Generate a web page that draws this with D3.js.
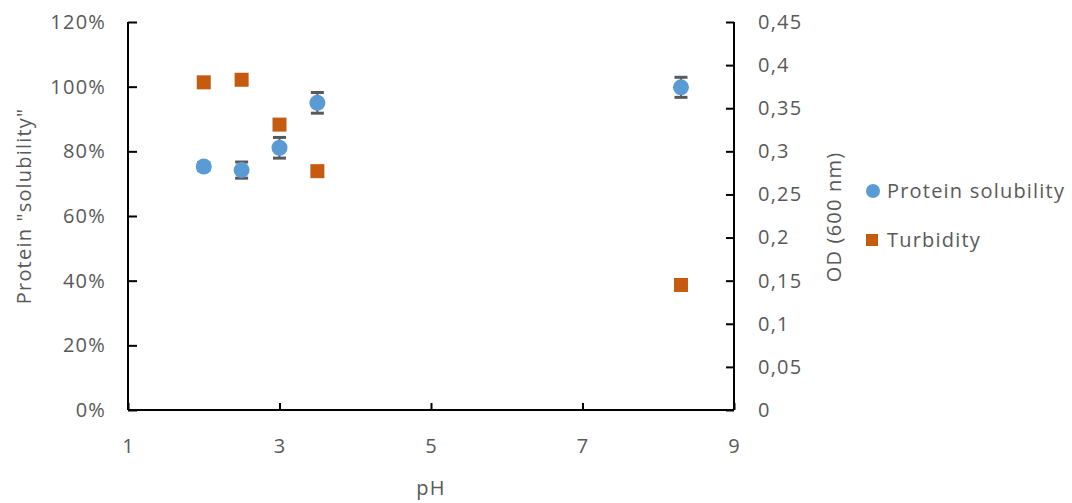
<!DOCTYPE html>
<html><head><meta charset="utf-8">
<script src="https://cdn.jsdelivr.net/npm/d3@7"></script>
<style>body{margin:0;background:#fff;} text{font-family:"Open Sans","Noto Sans",sans-serif;}</style>
</head><body>
<svg id="chart" width="1072" height="503"></svg>
<script>
const phValues = [2, 2.5, 3, 3.5, 8.3];
const solubility = [0.753, 0.742, 0.811, 0.950, 0.998];
const solubilityErr = [0.012, 0.025, 0.032, 0.032, 0.031];
const turbidity = [0.380, 0.383, 0.331, 0.277, 0.145];
const xTicks = [1, 3, 5, 7, 9];
const leftTicks = [0, 0.2, 0.4, 0.6, 0.8, 1.0, 1.2];
const rightTicks = [0, 0.05, 0.1, 0.15, 0.2, 0.25, 0.3, 0.35, 0.4, 0.45];
const seriesNames = ["Protein solubility", "Turbidity"];

const svg = d3.select("#chart");
const L = 128, R = 734, T = 22, B = 410;
const x = d3.scaleLinear().domain([1, 9]).range([L, R]);
const yL = d3.scaleLinear().domain([0, 1.2]).range([B, T]);
const yR = d3.scaleLinear().domain([0, 0.45]).range([B, T]);
const textCol = "#595959";
const fs = "20px";
const ls = "1.2px";

function styleText(sel) {
  return sel.attr("fill", textCol).style("font-size", fs).style("letter-spacing", ls);
}

// axes
const axL = svg.append("g").attr("transform", `translate(${L},0)`)
  .call(d3.axisLeft(yL).tickValues(leftTicks).tickSize(-9).tickPadding(22).tickFormat(d => Math.round(d*100) + "%"));
const axR = svg.append("g").attr("transform", `translate(${R},0)`)
  .call(d3.axisRight(yR).tickValues(rightTicks).tickSize(-8).tickPadding(24).tickFormat(d => String(d).replace(".", ",")));
const axX = svg.append("g").attr("transform", `translate(0,${B})`)
  .call(d3.axisBottom(x).tickValues(xTicks).tickSize(-7).tickFormat(d3.format("d")));
[axL, axR, axX].forEach(g => {
  g.select(".domain").attr("stroke", "#000").attr("stroke-width", 2);
  g.selectAll(".tick line").attr("stroke", "#000").attr("stroke-width", 2);
  styleText(g.selectAll(".tick text"));
});
axL.select(".domain").attr("d", `M0,${T}H0V${B}H0`);
axR.select(".domain").attr("d", `M0,${T}H0V${B}H0`);
axX.select(".domain").attr("d", `M${L},0H${R}`);
axX.selectAll(".tick text").attr("y", 43).attr("dy", "0");

// axis titles
styleText(svg.append("text").attr("transform", `translate(31,206) rotate(-90)`)
  .attr("text-anchor", "middle")).text('Protein "solubility"');
styleText(svg.append("text").attr("transform", `translate(841,217) rotate(-90)`)
  .attr("text-anchor", "middle")).text("OD (600 nm)");
styleText(svg.append("text").attr("x", x(5)).attr("y", 495).attr("text-anchor", "middle")).text("pH");

// error bars
const eb = svg.append("g");
phValues.forEach((p, i) => {
  const cx = x(p), y1 = yL(solubility[i] + solubilityErr[i]), y2 = yL(solubility[i] - solubilityErr[i]);
  eb.append("line").attr("x1", cx).attr("x2", cx).attr("y1", y1).attr("y2", y2).attr("stroke", "#595959").attr("stroke-width", 2);
  [y1, y2].forEach(yy => eb.append("line").attr("x1", cx - 6.5).attr("x2", cx + 6.5).attr("y1", yy).attr("y2", yy).attr("stroke", "#595959").attr("stroke-width", 3));
});

// turbidity squares
svg.append("g").selectAll("rect").data(phValues).join("rect")
  .attr("x", (d) => x(d) - 7).attr("y", (d, i) => yR(turbidity[i]) - 7)
  .attr("width", 14).attr("height", 14).attr("fill", "#C55A11");

// solubility circles
svg.append("g").selectAll("circle").data(phValues).join("circle")
  .attr("cx", d => x(d)).attr("cy", (d, i) => yL(solubility[i])).attr("r", 8).attr("fill", "#5B9BD5");

// legend
const lg = svg.append("g");
lg.append("circle").attr("cx", 873).attr("cy", 191).attr("r", 7).attr("fill", "#5B9BD5");
styleText(lg.append("text").attr("x", 887).attr("y", 191).attr("dy", "0.36em")).text(seriesNames[0]);
lg.append("rect").attr("x", 866).attr("y", 234).attr("width", 12).attr("height", 12).attr("fill", "#C55A11");
styleText(lg.append("text").attr("x", 887).attr("y", 240).attr("dy", "0.36em")).text(seriesNames[1]);
</script>
</body></html>
